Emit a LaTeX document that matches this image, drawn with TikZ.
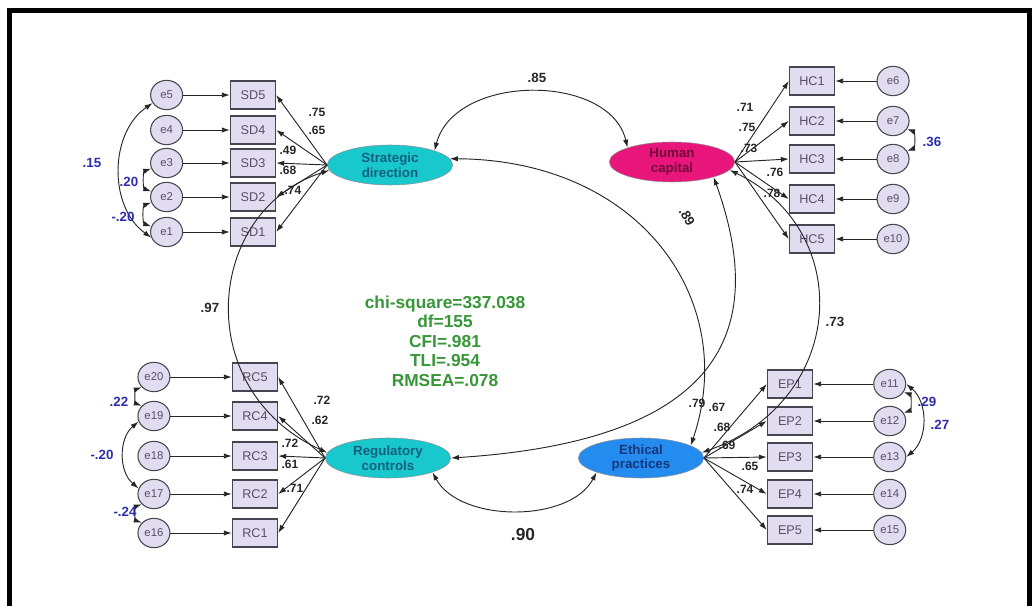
\documentclass[tikz,border=0pt]{standalone}
\usepackage{fontspec}
\setmainfont{Liberation Sans}
\usetikzlibrary{arrows.meta,positioning,shapes.geometric,calc}
\definecolor{semLilac}{RGB}{226,220,240}
\definecolor{semEdge}{RGB}{70,70,80}
\definecolor{semText}{RGB}{85,80,105}
\definecolor{semCyan}{RGB}{24,200,204}
\definecolor{semCyanInk}{RGB}{20,95,125}
\definecolor{semPink}{RGB}{232,22,122}
\definecolor{semPinkInk}{RGB}{115,10,60}
\definecolor{semBlue}{RGB}{36,140,238}
\definecolor{semBlueInk}{RGB}{20,55,125}
\definecolor{semGreen}{RGB}{55,150,55}
\definecolor{semNavy}{RGB}{45,45,170}
\tikzset{
  itembox/.style={
    rectangle, draw=semEdge, line width=0.8pt, fill=semLilac, text=semText,
    minimum width=34pt, minimum height=21pt, inner sep=0pt,
    font=\fontsize{9.5}{10}\selectfont},
  errnode/.style={
    ellipse, draw=semEdge, line width=0.8pt, fill=semLilac, text=semText,
    minimum width=24pt, minimum height=22pt, inner sep=0pt,
    font=\fontsize{8.5}{9}\selectfont},
  latent/.style={
    ellipse, draw=semEdge!60, fill=semCyan, text=semCyanInk, align=center,
    minimum width=94pt, minimum height=30pt, inner sep=0pt,
    font=\fontsize{10}{11}\selectfont\bfseries},
  pathline/.style={-{Latex[length=6pt,width=4pt]}, line width=0.7pt, draw=black!85},
  covline/.style={{Latex[length=6pt,width=4pt]}-{Latex[length=6pt,width=4pt]},
    line width=0.7pt, draw=black!85},
  loadlab/.style={font=\fontsize{9}{10}\selectfont\bfseries, text=black!85, inner sep=0pt},
  corrlab/.style={loadlab, font=\fontsize{10}{11}\selectfont\bfseries},
  covlab/.style={loadlab, font=\fontsize{10}{11}\selectfont\bfseries, text=semNavy}
}

\begin{document}
\begin{tikzpicture}[x=0.75pt, y=0.75pt]
  \useasboundingbox (0,0) rectangle (1032,-606);
  \draw[line width=3.8pt] (9.5,-606) -- (9.5,-10.5) -- (1030,-10.5) -- (1030,-606);

  % latent factors
  \node[latent] (SD) at (390,-165) {Strategic\\direction};
  \node[latent, fill=semPink, text=semPinkInk] (HC) at (672,-162) {Human\\capital};
  \node[latent] (RC) at (388,-458) {Regulatory\\controls};
  \node[latent, fill=semBlue, text=semBlueInk] (EP) at (641,-458) {Ethical\\practices};

  % strategic direction
  \node[itembox] (SD5) at (253,-95) {SD5};
  \node[itembox] (SD4) at (253,-130) {SD4};
  \node[itembox] (SD3) at (253,-163) {SD3};
  \node[itembox] (SD2) at (253,-197) {SD2};
  \node[itembox] (SD1) at (253,-232) {SD1};
  \node[errnode, left=35pt of SD5] (e5) {e5};
  \node[errnode, left=35pt of SD4] (e4) {e4};
  \node[errnode, left=35pt of SD3] (e3) {e3};
  \node[errnode, left=35pt of SD2] (e2) {e2};
  \node[errnode, left=35pt of SD1] (e1) {e1};

  % human capital
  \node[itembox] (HC1) at (812,-81) {HC1};
  \node[itembox] (HC2) at (812,-121) {HC2};
  \node[itembox] (HC3) at (812,-159) {HC3};
  \node[itembox] (HC4) at (812,-199) {HC4};
  \node[itembox] (HC5) at (812,-239) {HC5};
  \node[errnode, right=31pt of HC1] (e6) {e6};
  \node[errnode, right=31pt of HC2] (e7) {e7};
  \node[errnode, right=31pt of HC3] (e8) {e8};
  \node[errnode, right=31pt of HC4] (e9) {e9};
  \node[errnode, right=31pt of HC5] (e10) {e10};

  % regulatory controls
  \node[itembox] (RC5) at (255,-377) {RC5};
  \node[itembox] (RC4) at (255,-416) {RC4};
  \node[itembox] (RC3) at (255,-456) {RC3};
  \node[itembox] (RC2) at (255,-494) {RC2};
  \node[itembox] (RC1) at (255,-533) {RC1};
  \node[errnode, left=46pt of RC5] (e20) {e20};
  \node[errnode, left=46pt of RC4] (e19) {e19};
  \node[errnode, left=46pt of RC3] (e18) {e18};
  \node[errnode, left=46pt of RC2] (e17) {e17};
  \node[errnode, left=46pt of RC1] (e16) {e16};

  % ethical practices
  \node[itembox] (EP1) at (790,-384) {EP1};
  \node[itembox] (EP2) at (790,-421) {EP2};
  \node[itembox] (EP3) at (790,-457) {EP3};
  \node[itembox] (EP4) at (790,-494) {EP4};
  \node[itembox] (EP5) at (790,-530) {EP5};
  \node[errnode, right=45pt of EP1] (e11) {e11};
  \node[errnode, right=45pt of EP2] (e12) {e12};
  \node[errnode, right=45pt of EP3] (e13) {e13};
  \node[errnode, right=45pt of EP4] (e14) {e14};
  \node[errnode, right=45pt of EP5] (e15) {e15};

  % loadings and error terms
  \draw[pathline] (SD.west) -- (SD5.east);
  \draw[pathline] (SD.west) -- (SD4.east);
  \draw[pathline] (SD.west) -- (SD3.east);
  \draw[pathline] (SD.west) -- (SD2.east);
  \draw[pathline] (SD.west) -- (SD1.east);
  \draw[pathline] (HC.east) -- (HC1.west);
  \draw[pathline] (HC.east) -- (HC2.west);
  \draw[pathline] (HC.east) -- (HC3.west);
  \draw[pathline] (HC.east) -- (HC4.west);
  \draw[pathline] (HC.east) -- (HC5.west);
  \draw[pathline] (RC.west) -- (RC5.east);
  \draw[pathline] (RC.west) -- (RC4.east);
  \draw[pathline] (RC.west) -- (RC3.east);
  \draw[pathline] (RC.west) -- (RC2.east);
  \draw[pathline] (RC.west) -- (RC1.east);
  \draw[pathline] (EP.east) -- (EP1.west);
  \draw[pathline] (EP.east) -- (EP2.west);
  \draw[pathline] (EP.east) -- (EP3.west);
  \draw[pathline] (EP.east) -- (EP4.west);
  \draw[pathline] (EP.east) -- (EP5.west);
  \draw[pathline] (e5) -- (SD5);
  \draw[pathline] (e4) -- (SD4);
  \draw[pathline] (e3) -- (SD3);
  \draw[pathline] (e2) -- (SD2);
  \draw[pathline] (e1) -- (SD1);
  \draw[pathline] (e6) -- (HC1);
  \draw[pathline] (e7) -- (HC2);
  \draw[pathline] (e8) -- (HC3);
  \draw[pathline] (e9) -- (HC4);
  \draw[pathline] (e10) -- (HC5);
  \draw[pathline] (e20) -- (RC5);
  \draw[pathline] (e19) -- (RC4);
  \draw[pathline] (e18) -- (RC3);
  \draw[pathline] (e17) -- (RC2);
  \draw[pathline] (e16) -- (RC1);
  \draw[pathline] (e11) -- (EP1);
  \draw[pathline] (e12) -- (EP2);
  \draw[pathline] (e13) -- (EP3);
  \draw[pathline] (e14) -- (EP4);
  \draw[pathline] (e15) -- (EP5);

  % factor correlations
  \draw[covline] (SD.north east) .. controls (455,-73) and (610,-73) .. (HC.north west);
  \draw[covline] (SD.6) .. controls (640,-160) and (740,-300) .. (EP.14);
  \draw[covline] (HC.-20) .. controls (765,-320) and (735,-440) .. (RC.east);
  \draw[covline] (HC.-8) .. controls (855,-230) and (848,-400) .. (EP.5);
  \draw[covline] (SD.185) .. controls (205,-210) and (190,-390) .. (RC.175);
  \draw[covline] (RC.south east) .. controls (460,-523) and (570,-523) .. (EP.south west);

  % error covariances
  \draw[covline] (e5.210) to[bend right=55] (e1.200);
  \draw[covline] (e3.200) to[bend right=70] (e2.160);
  \draw[covline] (e2.200) to[bend right=70] (e1.160);
  \draw[covline] (e20.220) to[bend right=70] (e19.140);
  \draw[covline] (e19.200) to[bend right=50] (e17.160);
  \draw[covline] (e17.220) to[bend right=70] (e16.140);
  \draw[covline] (e7.-30) to[bend left=70] (e8.30);
  \draw[covline] (e11.-30) to[bend left=70] (e12.30);
  \draw[covline] (e11.0) to[bend left=50] (e13.0);

  % estimates
  \node[loadlab] (lsd5) at (317,-112) {.75};
  \node[loadlab] (lsd4) at (317,-130) {.65};
  \node[loadlab] (lsd3) at (288,-150) {.49};
  \node[loadlab] (lsd2) at (288,-170) {.68};
  \node[loadlab] (lsd1) at (293,-190) {.74};
  \node[loadlab] (lhc1) at (745,-107) {.71};
  \node[loadlab] (lhc2) at (747,-127) {.75};
  \node[loadlab] (lhc3) at (749,-148) {.73};
  \node[loadlab] (lhc4) at (775,-172) {.76};
  \node[loadlab] (lhc5) at (772,-193) {.78};
  \node[loadlab] (lrc5) at (322,-400) {.72};
  \node[loadlab] (lrc4) at (320,-420) {.62};
  \node[loadlab] (lrc3) at (290,-443) {.72};
  \node[loadlab] (lrc2) at (290,-464) {.61};
  \node[loadlab] (lrc1) at (295,-488) {.71};
  \node[loadlab] (lep1) at (717,-407) {.67};
  \node[loadlab] (lep2) at (722,-427) {.68};
  \node[loadlab] (lep3) at (727,-445) {.69};
  \node[loadlab] (lep4) at (750,-466) {.65};
  \node[loadlab] (lep5) at (745,-489) {.74};
  \node[corrlab] (r85) at (537,-78) {.85};
  \node[corrlab, rotate=-60] (r89) at (687,-217) {.89};
  \node[corrlab] (r97) at (210,-308) {.97};
  \node[corrlab] (r73) at (835,-322) {.73};
  \node[loadlab] (r79) at (697,-403) {.79};
  \node[corrlab, font=\fontsize{13}{14}\selectfont\bfseries] (r90) at (523,-535) {.90};
  \node[covlab] (c15) at (92,-163) {.15};
  \node[covlab] (c20a) at (129,-182) {.20};
  \node[covlab] (c20b) at (123,-217) {-.20};
  \node[covlab] (c36) at (932,-142) {.36};
  \node[covlab] (c29) at (927,-402) {.29};
  \node[covlab] (c27) at (940,-425) {.27};
  \node[covlab] (c22) at (119,-402) {.22};
  \node[covlab] (c20c) at (102,-455) {-.20};
  \node[covlab] (c24) at (125,-512) {-.24};

  % fit indices
  \node[font=\fontsize{13}{14.6}\selectfont\bfseries, text=semGreen, align=center]
    (fit) at (445,-341) {chi-square=337.038\\df=155\\CFI=.981\\TLI=.954\\RMSEA=.078};
\end{tikzpicture}
\end{document}
